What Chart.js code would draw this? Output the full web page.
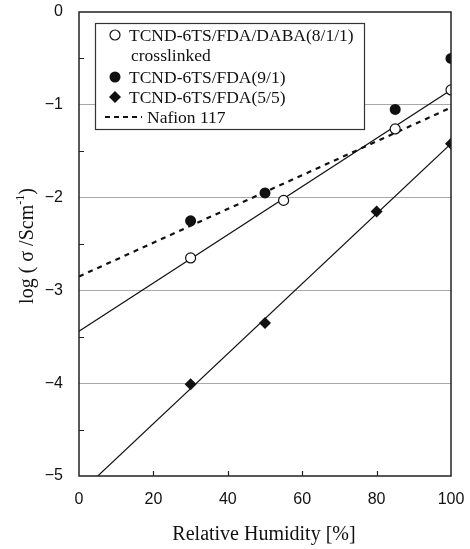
<!DOCTYPE html>
<html>
<head>
<meta charset="utf-8">
<script src="https://cdn.jsdelivr.net/npm/chart.js@4/dist/chart.umd.min.js"></script>
<style>
  html, body { margin: 0; padding: 0; background: #fff; }
  #c { display: block; }
</style>
</head>
<body>
<canvas id="c" width="470" height="549"></canvas>
<script>
// ---- data ----
const rhDaba = [30, 55, 85, 100];
const logDaba = [-2.65, -2.03, -1.26, -0.84];
const rhFda91 = [30, 50, 85, 100];
const logFda91 = [-2.25, -1.95, -1.05, -0.50];
const rhFda55 = [30, 50, 80, 100];
const logFda55 = [-4.01, -3.35, -2.15, -1.42];
// straight fit lines (endpoints)
const fitDabaX = [0, 100];
const fitDabaY = [-3.44, -0.84];
const fitFda55X = [0, 100];
const fitFda55Y = [-5.19, -1.42];
const nafionX = [0, 100];
const nafionY = [-2.85, -1.03];
// ticks
const xTicks = [0, 20, 40, 60, 80, 100];
const yTicks = [0, -1, -2, -3, -4, -5];

const legendItems = [
  { style: 'open', label: 'TCND-6TS/FDA/DABA(8/1/1)' },
  { style: 'none', label: 'crosslinked' },
  { style: 'filled', label: 'TCND-6TS/FDA(9/1)' },
  { style: 'diamond', label: 'TCND-6TS/FDA(5/5)' },
  { style: 'dash', label: 'Nafion 117' }
];

const pts = (xs, ys) => xs.map((x, i) => ({ x: x, y: ys[i] }));
const SERIF = '"Liberation Serif", "DejaVu Serif", serif';
const SANS = '"Liberation Sans", Arial, sans-serif';
const INK = '#111';

const framePlugin = {
  id: 'frame',
  beforeDraw(chart) {
    const ctx = chart.ctx;
    ctx.save();
    ctx.fillStyle = '#fff';
    ctx.fillRect(0, 0, chart.width, chart.height);
    ctx.restore();
  },
  afterDatasetsDraw(chart) {
    const ctx = chart.ctx;
    const a = chart.chartArea;
    const xs = chart.scales.x, ys = chart.scales.y;
    ctx.save();
    // frame
    ctx.strokeStyle = '#222';
    ctx.lineWidth = 1.5;
    ctx.strokeRect(a.left, a.top, a.right - a.left, a.bottom - a.top);
    // inward ticks
    ctx.lineWidth = 1.2;
    ctx.beginPath();
    for (const v of [20, 40, 60, 80]) {
      const px = Math.round(xs.getPixelForValue(v)) + 0.5;
      ctx.moveTo(px, a.bottom);
      ctx.lineTo(px, a.bottom - 5);
    }
    for (let v = -0.5; v > -5; v -= 1) {
      const py = Math.round(ys.getPixelForValue(v)) + 0.5;
      ctx.moveTo(a.left, py);
      ctx.lineTo(a.left + 5, py);
    }
    ctx.stroke();

    // legend box
    const bx = 95, by = 23, bw = 269, bh = 106;
    ctx.fillStyle = '#fff';
    ctx.fillRect(bx, by, bw, bh);
    ctx.strokeStyle = '#333';
    ctx.lineWidth = 1.2;
    ctx.strokeRect(bx + 0.5, by + 0.5, bw, bh);
    const rowY = [35, 55, 77, 97, 117];
    ctx.font = '17.5px ' + SERIF;
    ctx.textBaseline = 'middle';
    ctx.fillStyle = INK;
    legendItems.forEach((it, i) => {
      const y = rowY[i];
      const mx = 115;
      ctx.strokeStyle = INK;
      ctx.fillStyle = INK;
      if (it.style === 'open') {
        ctx.lineWidth = 1.2;
        ctx.beginPath(); ctx.arc(mx, y, 5, 0, Math.PI * 2); ctx.stroke();
      } else if (it.style === 'filled') {
        ctx.beginPath(); ctx.arc(mx, y, 5.5, 0, Math.PI * 2); ctx.fill();
      } else if (it.style === 'diamond') {
        ctx.beginPath();
        ctx.moveTo(mx, y - 6); ctx.lineTo(mx + 6, y); ctx.lineTo(mx, y + 6); ctx.lineTo(mx - 6, y);
        ctx.closePath(); ctx.fill();
      } else if (it.style === 'dash') {
        ctx.lineWidth = 2;
        ctx.setLineDash([5, 4]);
        ctx.beginPath(); ctx.moveTo(105, y); ctx.lineTo(142, y); ctx.stroke();
        ctx.setLineDash([]);
      }
      const tx = it.style === 'dash' ? 147 : (it.style === 'none' ? 131 : 129);
      ctx.fillStyle = INK;
      ctx.fillText(it.label, tx, y + 1);
    });

    // axis titles
    ctx.fillStyle = INK;
    ctx.font = '20px ' + SERIF;
    ctx.textAlign = 'center';
    ctx.textBaseline = 'middle';
    ctx.fillText('Relative Humidity [%]', 264, 535);

    ctx.save();
    ctx.translate(28, 246);
    ctx.rotate(-Math.PI / 2);
    const main = 'log ( σ /Scm';
    const sup = '-1';
    const tail = ')';
    ctx.font = '20px ' + SERIF;
    const w1 = ctx.measureText(main).width;
    const w3 = ctx.measureText(tail).width;
    ctx.font = '12px ' + SERIF;
    const w2 = ctx.measureText(sup).width;
    const total = w1 + w2 + w3;
    let x0 = -total / 2;
    ctx.textAlign = 'left';
    ctx.font = '20px ' + SERIF;
    ctx.fillText(main, x0, 0);
    ctx.font = '12px ' + SERIF;
    ctx.fillText(sup, x0 + w1, -7);
    ctx.font = '20px ' + SERIF;
    ctx.fillText(tail, x0 + w1 + w2, 0);
    ctx.restore();

    ctx.restore();
  }
};

const zeroPad = (s) => { s.paddingTop = 0; s.paddingBottom = 0; s.paddingLeft = 0; s.paddingRight = 0; };

new Chart(document.getElementById('c'), {
  type: 'scatter',
  data: {
    datasets: [
      { data: pts(fitDabaX, fitDabaY), showLine: true, borderColor: INK, borderWidth: 1.2, pointRadius: 0, order: 5 },
      { data: pts(fitFda55X, fitFda55Y), showLine: true, borderColor: INK, borderWidth: 1.2, pointRadius: 0, order: 5 },
      { data: pts(nafionX, nafionY), showLine: true, borderColor: INK, borderWidth: 2.2, borderDash: [5, 5], pointRadius: 0, order: 5 },
      { data: pts(rhDaba, logDaba), pointStyle: 'circle', pointRadius: 5, backgroundColor: '#fff', borderColor: INK, borderWidth: 1.2, order: 1 },
      { data: pts(rhFda91, logFda91), pointStyle: 'circle', pointRadius: 5.5, backgroundColor: INK, borderColor: INK, borderWidth: 0, order: 1 },
      { data: pts(rhFda55, logFda55), pointStyle: 'rectRot', pointRadius: 6, backgroundColor: INK, borderColor: INK, borderWidth: 0, order: 1 }
    ]
  },
  options: {
    responsive: false,
    animation: false,
    events: [],
    layout: { padding: { left: 0, right: 19, top: 12, bottom: 0 } },
    plugins: { legend: { display: false }, tooltip: { enabled: false } },
    scales: {
      x: {
        type: 'linear', min: 0, max: 100,
        afterBuildTicks: (s) => { s.ticks = xTicks.map(v => ({ value: v })); },
        ticks: { color: INK, font: { family: SANS, size: 16 }, padding: 14, maxRotation: 0 },
        grid: { display: false, drawTicks: false },
        border: { display: false },
        afterFit: (s) => { s.height = 73; zeroPad(s); }
      },
      y: {
        type: 'linear', min: -5, max: 0,
        afterBuildTicks: (s) => { s.ticks = yTicks.map(v => ({ value: v })); },
        ticks: {
          color: INK, font: { family: SANS, size: 16 }, padding: 16,
          callback: (v) => (v < 0 ? '\u2212' + Math.abs(v) : String(v))
        },
        grid: {
          drawTicks: false,
          color: (c) => (c.tick && c.tick.value < 0 && c.tick.value > -5 ? '#a8a8a8' : 'rgba(0,0,0,0)'),
          lineWidth: 1
        },
        border: { display: false },
        afterFit: (s) => { s.width = 79; zeroPad(s); }
      }
    }
  },
  plugins: [framePlugin]
});
</script>
</body>
</html>
